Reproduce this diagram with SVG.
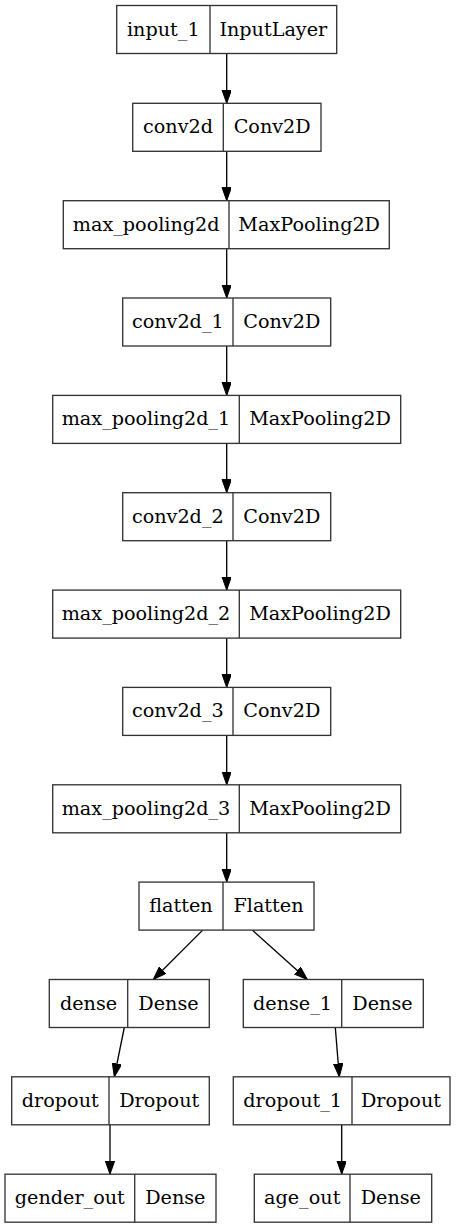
<svg xmlns="http://www.w3.org/2000/svg" width="457" height="1228" viewBox="0 0 457 1228">
<style>
.box{fill:#ffffff;stroke:#333333;stroke-width:1.33}
.div{stroke:#333333;stroke-width:1.33}
.t{font-family:"DejaVu Serif",serif;font-size:19.2px;fill:#000000;text-anchor:middle}
.e{stroke:#000000;stroke-width:1.33;fill:none;marker-end:url(#ah)}
</style>
<defs>
<marker id="ah" markerUnits="userSpaceOnUse" markerWidth="14" markerHeight="10" refX="13.3" refY="4.7" orient="auto">
<path d="M0,0 L13.3,4.7 L0,9.4 Z" fill="#000000" stroke="#000000" stroke-width="1"/>
</marker>
</defs>
<rect width="457" height="1228" fill="#ffffff"/>
<g id="connectors">
<line class="e" x1="226.7" y1="53.5" x2="226.7" y2="103.3"/>
<line class="e" x1="226.7" y1="151.3" x2="226.7" y2="200.7"/>
<line class="e" x1="226.7" y1="248.7" x2="226.7" y2="298"/>
<line class="e" x1="226.7" y1="346" x2="226.7" y2="395.4"/>
<line class="e" x1="226.7" y1="443.4" x2="226.7" y2="492.7"/>
<line class="e" x1="226.7" y1="540.7" x2="226.7" y2="590.1"/>
<line class="e" x1="226.7" y1="638.1" x2="226.7" y2="687.4"/>
<line class="e" x1="226.7" y1="735.4" x2="226.7" y2="784.8"/>
<line class="e" x1="226.7" y1="832.8" x2="226.7" y2="882.1"/>
<line class="e" x1="202.7" y1="930.1" x2="153.3" y2="979.5"/>
<line class="e" x1="252.3" y1="930.1" x2="307.3" y2="979.5"/>
<line class="e" x1="124.3" y1="1027.5" x2="114.3" y2="1076.8"/>
<line class="e" x1="335.3" y1="1027.5" x2="339.3" y2="1076.8"/>
<line class="e" x1="110" y1="1124.8" x2="110" y2="1174.2"/>
<line class="e" x1="341.7" y1="1124.8" x2="341.7" y2="1174.2"/>
</g>
<g id="input_1">
<rect class="box" x="116.7" y="5.5" width="220" height="48"/>
<line class="div" x1="210" y1="5.5" x2="210" y2="53.5"/>
<text class="t" x="163.3" y="35.5">input_1</text>
<text class="t" x="273.3" y="35.5">InputLayer</text>
</g>
<g id="conv2d">
<rect class="box" x="132.7" y="103.3" width="188.3" height="48"/>
<line class="div" x1="223.3" y1="103.3" x2="223.3" y2="151.3"/>
<text class="t" x="178" y="133.3">conv2d</text>
<text class="t" x="272.2" y="133.3">Conv2D</text>
</g>
<g id="max_pooling2d">
<rect class="box" x="63.3" y="200.7" width="326" height="48"/>
<line class="div" x1="229" y1="200.7" x2="229" y2="248.7"/>
<text class="t" x="146.2" y="230.7">max_pooling2d</text>
<text class="t" x="309.2" y="230.7">MaxPooling2D</text>
</g>
<g id="conv2d_1">
<rect class="box" x="122.7" y="298" width="208" height="48"/>
<line class="div" x1="233" y1="298" x2="233" y2="346"/>
<text class="t" x="177.8" y="328">conv2d_1</text>
<text class="t" x="281.8" y="328">Conv2D</text>
</g>
<g id="max_pooling2d_1">
<rect class="box" x="52.7" y="395.4" width="348" height="48"/>
<line class="div" x1="239.3" y1="395.4" x2="239.3" y2="443.4"/>
<text class="t" x="146" y="425.4">max_pooling2d_1</text>
<text class="t" x="320" y="425.4">MaxPooling2D</text>
</g>
<g id="conv2d_2">
<rect class="box" x="122.7" y="492.7" width="208" height="48"/>
<line class="div" x1="233" y1="492.7" x2="233" y2="540.7"/>
<text class="t" x="177.8" y="522.7">conv2d_2</text>
<text class="t" x="281.8" y="522.7">Conv2D</text>
</g>
<g id="max_pooling2d_2">
<rect class="box" x="52.7" y="590.1" width="348" height="48"/>
<line class="div" x1="239.3" y1="590.1" x2="239.3" y2="638.1"/>
<text class="t" x="146" y="620.1">max_pooling2d_2</text>
<text class="t" x="320" y="620.1">MaxPooling2D</text>
</g>
<g id="conv2d_3">
<rect class="box" x="122.7" y="687.4" width="208" height="48"/>
<line class="div" x1="233" y1="687.4" x2="233" y2="735.4"/>
<text class="t" x="177.8" y="717.4">conv2d_3</text>
<text class="t" x="281.8" y="717.4">Conv2D</text>
</g>
<g id="max_pooling2d_3">
<rect class="box" x="52.7" y="784.8" width="348" height="48"/>
<line class="div" x1="239.3" y1="784.8" x2="239.3" y2="832.8"/>
<text class="t" x="146" y="814.8">max_pooling2d_3</text>
<text class="t" x="320" y="814.8">MaxPooling2D</text>
</g>
<g id="flatten">
<rect class="box" x="139" y="882.1" width="175" height="48"/>
<line class="div" x1="223" y1="882.1" x2="223" y2="930.1"/>
<text class="t" x="181" y="912.1">flatten</text>
<text class="t" x="268.5" y="912.1">Flatten</text>
</g>
<g id="dense">
<rect class="box" x="49.3" y="979.5" width="160" height="48"/>
<line class="div" x1="127.7" y1="979.5" x2="127.7" y2="1027.5"/>
<text class="t" x="88.5" y="1009.5">dense</text>
<text class="t" x="168.5" y="1009.5">Dense</text>
</g>
<g id="dense_1">
<rect class="box" x="243.3" y="979.5" width="180" height="48"/>
<line class="div" x1="341.7" y1="979.5" x2="341.7" y2="1027.5"/>
<text class="t" x="292.5" y="1009.5">dense_1</text>
<text class="t" x="382.5" y="1009.5">Dense</text>
</g>
<g id="dropout">
<rect class="box" x="11.7" y="1076.8" width="197.6" height="48"/>
<line class="div" x1="109" y1="1076.8" x2="109" y2="1124.8"/>
<text class="t" x="60.3" y="1106.8">dropout</text>
<text class="t" x="159.2" y="1106.8">Dropout</text>
</g>
<g id="dropout_1">
<rect class="box" x="233.3" y="1076.8" width="216.7" height="48"/>
<line class="div" x1="352" y1="1076.8" x2="352" y2="1124.8"/>
<text class="t" x="292.7" y="1106.8">dropout_1</text>
<text class="t" x="401" y="1106.8">Dropout</text>
</g>
<g id="gender_out">
<rect class="box" x="5" y="1174.2" width="211" height="48"/>
<line class="div" x1="134.7" y1="1174.2" x2="134.7" y2="1222.2"/>
<text class="t" x="69.8" y="1204.2">gender_out</text>
<text class="t" x="175.3" y="1204.2">Dense</text>
</g>
<g id="age_out">
<rect class="box" x="254.3" y="1174.2" width="177.4" height="48"/>
<line class="div" x1="350" y1="1174.2" x2="350" y2="1222.2"/>
<text class="t" x="302.2" y="1204.2">age_out</text>
<text class="t" x="390.8" y="1204.2">Dense</text>
</g>
</svg>
